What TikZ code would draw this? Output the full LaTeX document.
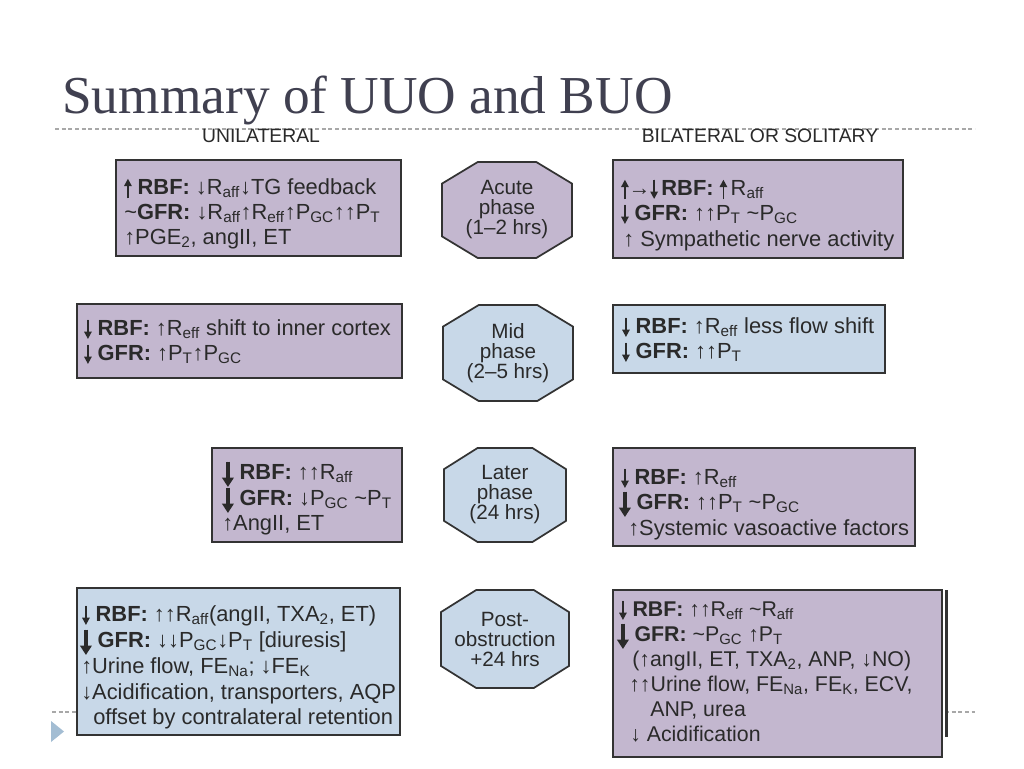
\documentclass[tikz,border=0pt]{standalone}
\usepackage{fontspec}
\usepackage{graphicx}
\setmainfont{Liberation Serif}
\setsansfont{Liberation Sans}
\usetikzlibrary{arrows.meta,fit}
\definecolor{purp}{HTML}{C3B7CF}
\definecolor{blu}{HTML}{C8D8E8}
\definecolor{tc}{HTML}{2A2A2A}
\definecolor{bordc}{HTML}{333333}
\definecolor{titlec}{HTML}{404050}
\definecolor{dashc}{HTML}{A8A8A8}
\definecolor{tric}{HTML}{A3BDD3}
\newcommand\Sb[1]{\textsubscript{#1}}
\newcommand\tld{\textasciitilde}
\tikzset{
 arrS/.style={draw=tc, fill=tc, line width=1.2pt, -{Triangle[width=5.5pt,length=5.5pt]}},
 arrB/.style={draw=tc, fill=tc, line width=2.4pt, -{Triangle[width=8.5pt,length=7pt]}},
 box/.style={draw=bordc, line width=1.5pt, inner sep=0pt},
 ln/.style={anchor=base west, inner sep=0pt, text=tc, font=\sffamily\fontsize{16.4}{18}\selectfont},
 lnb/.style={ln, font=\sffamily\fontsize{16}{18}\selectfont},
 oct/.style={draw=bordc, line width=1.3pt},
 octtxt/.style={align=center, text=tc, font=\sffamily\fontsize{15.5}{15}\selectfont, inner sep=0pt},
 hdr/.style={anchor=base, inner sep=0pt, text=tc, font=\sffamily\fontsize{14.5}{17}\selectfont},
}
\newcommand\SUp{\tikz[baseline=0pt]\draw[arrS] (0pt,-3pt) -- (0pt,11.5pt);}
\newcommand\SDn{\tikz[baseline=0pt]\draw[arrS] (0pt,11.5pt) -- (0pt,-3pt);}
\newcommand\BDn{\tikz[baseline=0pt]\draw[arrB] (0pt,13pt) -- (0pt,-6pt);}
\newcommand\octo[7]{%
 \begin{scope}[shift={(#2,#3)}]
 \draw[oct, fill=#6] (-0.45*#4,-#5) -- (0.45*#4,-#5) -- (#4,-0.55*#5) -- (#4,0.55*#5) -- (0.45*#4,#5) -- (-0.45*#4,#5) -- (-#4,0.55*#5) -- (-#4,-0.55*#5) -- cycle;
 \node[octtxt] (#1) at (0,0) {#7};
 \end{scope}}
\begin{document}
\begin{tikzpicture}[x=0.75pt,y=-0.75pt]
\fill[white] (0,0) rectangle (1024,768);
\useasboundingbox (0,0) rectangle (1024,768);
% title and rules
\node[anchor=base west, inner sep=0pt, text=titlec, font=\rmfamily\fontsize{40}{46}\selectfont] (title) at (62,113) {Summary of UUO and BUO};
\draw[dashc, line width=0.8pt, dash pattern=on 3pt off 2pt] (55,129) -- (975,129);
\draw[dashc, line width=0.8pt, dash pattern=on 3pt off 2pt] (52,712) -- (77,712);
\draw[dashc, line width=0.8pt, dash pattern=on 3pt off 2pt] (945,712) -- (975,712);
\fill[tric] (51,721) -- (64,731.5) -- (51,742) -- cycle;
\node[hdr] (hl) at (261,142) {UNILATERAL};
\node[hdr] (hr) at (760,142) {BILATERAL OR SOLITARY};
% octagons
\octo{acute}{507}{210}{65}{48}{purp}{Acute\\phase\\(1–2 hrs)}
\octo{mid}{508}{353}{65}{48}{blu}{Mid\\phase\\(2–5 hrs)}
\octo{later}{505}{495}{61}{47}{blu}{Later\\phase\\(24 hrs)}
\octo{post}{505}{639}{64}{49}{blu}{Post-\\obstruction\\+24 hrs}
% Box 1
\node[box, fill=purp, fit={(116,160)(401,256)}] (b1) {};
\node[ln] (b1a) at (124,194) {\SUp\ \textbf{RBF:} ↓R\Sb{aff}↓TG feedback};
\node[ln] (b1b) at (124,219) {\tld\textbf{GFR:} ↓R\Sb{aff}↑R\Sb{eff}↑P\Sb{GC}↑↑P\Sb{T}};
\node[ln] (b1c) at (124,244) {↑PGE\Sb{2}, angII, ET};
% Box 2
\node[box, fill=purp, fit={(613,160)(903,258)}] (b2) {};
\node[ln] (b2a) at (621,195) {\SUp→\SDn\,\textbf{RBF:} \SUp\,R\Sb{aff}};
\node[ln] (b2b) at (621,220) {\SDn\ \textbf{GFR:} ↑↑P\Sb{T} \tld P\Sb{GC}};
\node[ln] (b2c) at (623,246) {↑ Sympathetic nerve activity};
% Box 3
\node[box, fill=purp, fit={(77,304)(402,378)}] (b3) {};
\node[ln] (b3a) at (84,335) {\SDn\ \textbf{RBF:} ↑R\Sb{eff} shift to inner cortex};
\node[ln] (b3b) at (84,360) {\SDn\ \textbf{GFR:} ↑P\Sb{T}↑P\Sb{GC}};
% Box 4
\node[box, fill=blu, fit={(613,305)(885,373)}] (b4) {};
\node[ln] (b4a) at (622,333) {\SDn\ \textbf{RBF:} ↑R\Sb{eff} less flow shift};
\node[ln] (b4b) at (622,358) {\SDn\ \textbf{GFR:} ↑↑P\Sb{T}};
% Box 5
\node[box, fill=purp, fit={(212,448)(402,542)}] (b5) {};
\node[ln] (b5a) at (222,479) {\BDn\ \textbf{RBF:} ↑↑R\Sb{aff}};
\node[ln] (b5b) at (222,505) {\BDn\ \textbf{GFR:} ↓P\Sb{GC} \tld P\Sb{T}};
\node[ln] (b5c) at (222,530) {↑AngII, ET};
% Box 6
\node[box, fill=purp, fit={(613,448)(915,546)}] (b6) {};
\node[ln] (b6a) at (621,484) {\SDn\ \textbf{RBF:} ↑R\Sb{eff}};
\node[ln] (b6b) at (619,509) {\BDn\ \textbf{GFR:} ↑↑P\Sb{T} \tld P\Sb{GC}};
\node[ln] (b6c) at (628,535) {↑Systemic vasoactive factors};
% Box 7
\node[box, fill=blu, fit={(77,588)(400,735)}] (b7) {};
\node[ln] (b7a) at (82,621) {\SDn\ \textbf{RBF:} ↑↑R\Sb{aff}(angII, TXA\Sb{2}, ET)};
\node[ln] (b7b) at (80,647) {\BDn\ \textbf{GFR:} ↓↓P\Sb{GC}↓P\Sb{T} [diuresis]};
\node[ln] (b7c) at (81,673) {↑Urine flow, FE\Sb{Na}; ↓FE\Sb{K}};
\node[ln] (b7d) at (81,699) {↓Acidification, transporters, AQP};
\node[ln] (b7e) at (93,724) {offset by contralateral retention};
% Box 8
\node[box, fill=purp, fit={(613,590)(942,757)}] (b8) {};
\fill[bordc] (944.5,590) rectangle (948,737);
\node[lnb] (b8a) at (619,616) {\SDn\ \textbf{RBF:} ↑↑R\Sb{eff} \tld R\Sb{aff}};
\node[lnb] (b8b) at (617,641) {\BDn\ \textbf{GFR:} \tld P\Sb{GC} ↑P\Sb{T}};
\node[lnb] (b8c) at (632,666) {(↑angII, ET, TXA\Sb{2}, ANP, ↓NO)};
\node[lnb] (b8d) at (629,691) {↑↑Urine flow, FE\Sb{Na}, FE\Sb{K}, ECV,};
\node[lnb] (b8e) at (650,716) {ANP, urea};
\node[lnb] (b8f) at (630,741) {↓ Acidification};
\end{tikzpicture}
\end{document}
